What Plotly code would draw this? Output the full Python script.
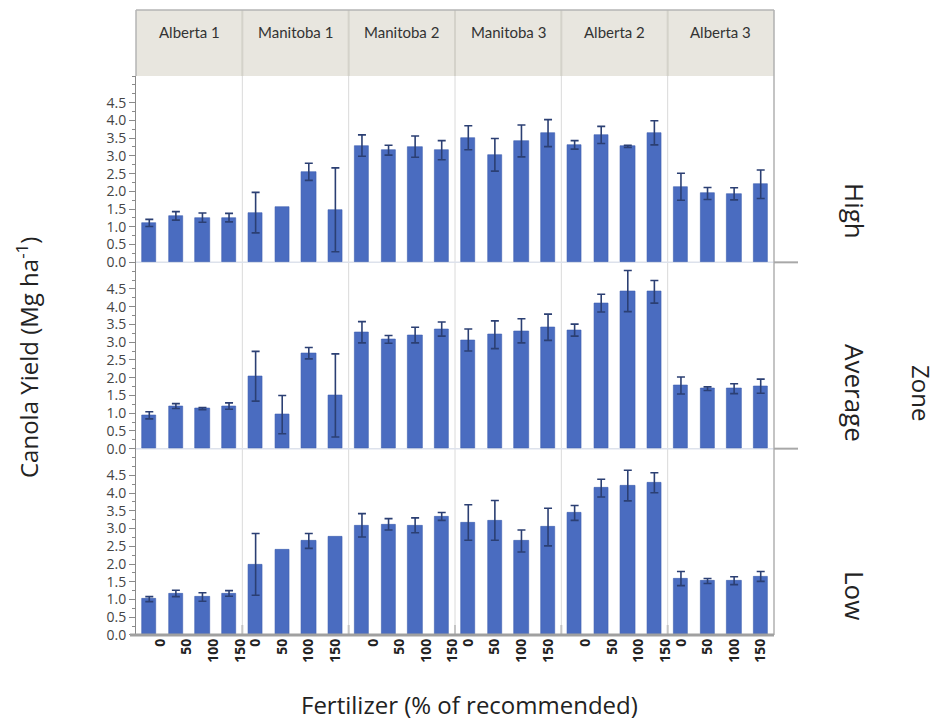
import numpy as np
import plotly.graph_objects as go

# Canola yield (Mg/ha) by site, productivity zone and fertilizer rate
sites = ["Alberta 1", "Manitoba 1", "Manitoba 2", "Manitoba 3", "Alberta 2", "Alberta 3"]
zones = ["High", "Average", "Low"]
fert_rates = [0, 1, 2, 3]
fert_labels = ["0", "50", "100", "150"]

high_yield = [
    [1.11, 1.31, 1.26, 1.26],
    [1.40, 1.55, 2.55, 1.48],
    [3.29, 3.16, 3.26, 3.16],
    [3.51, 3.03, 3.42, 3.64],
    [3.31, 3.59, 3.27, 3.65],
    [2.13, 1.94, 1.93, 2.20],
]
high_err = [
    [0.10, 0.12, 0.13, 0.12],
    [0.57, None, 0.24, 1.18],
    [0.30, 0.14, 0.30, 0.27],
    [0.34, 0.46, 0.45, 0.38],
    [0.12, 0.24, 0.03, 0.34],
    [0.38, 0.17, 0.17, 0.40],
]
avg_yield = [
    [0.94, 1.20, 1.13, 1.20],
    [2.04, 0.96, 2.69, 1.50],
    [3.28, 3.08, 3.20, 3.37],
    [3.06, 3.21, 3.32, 3.42],
    [3.34, 4.10, 4.44, 4.42],
    [1.78, 1.69, 1.69, 1.76],
]
avg_err = [
    [0.10, 0.07, 0.03, 0.09],
    [0.70, 0.54, 0.16, 1.17],
    [0.30, 0.11, 0.22, 0.20],
    [0.31, 0.39, 0.34, 0.37],
    [0.17, 0.25, 0.58, 0.32],
    [0.24, 0.05, 0.14, 0.20],
]
low_yield = [
    [1.01, 1.17, 1.07, 1.17],
    [1.99, 2.40, 2.65, 2.76],
    [3.09, 3.12, 3.09, 3.34],
    [3.17, 3.23, 2.65, 3.04],
    [3.44, 4.14, 4.21, 4.29],
    [1.59, 1.52, 1.53, 1.65],
]
low_err = [
    [0.07, 0.09, 0.12, 0.08],
    [0.87, None, 0.21, None],
    [0.33, 0.16, 0.21, 0.11],
    [0.50, 0.56, 0.31, 0.53],
    [0.21, 0.25, 0.43, 0.28],
    [0.20, 0.07, 0.11, 0.14],
]

yield_by_zone = [high_yield, avg_yield, low_yield]
err_by_zone = [high_err, avg_err, low_err]

y_tick_vals = [0, 0.5, 1.0, 1.5, 2.0, 2.5, 3.0, 3.5, 4.0, 4.5]

# ---- geometry (pixels) ----
W, H = 940, 723
ML, MR, MT, MB = 136, 166, 10, 88
PW, PH = W - ML - MR, H - MT - MB          # paper area
HEADER_H = 66
ROWS_H = PH - HEADER_H
ROW_H = ROWS_H / 3
NCOL = 6
Y_MAX = 5.25

BAR_COLOR = "#4a6cc0"
BAR_EDGE = "#3e5fb0"
ERR_COLOR = "#2b3f73"
label_shift = [11, 0, 11, 0, 11, 0]

fig = go.Figure()
layout = {}

for r in range(3):
    y_top = (ROWS_H - r * ROW_H) / PH
    y_bot = (ROWS_H - (r + 1) * ROW_H) / PH
    for c in range(NCOL):
        k = r * NCOL + c + 1
        xname = "xaxis" if k == 1 else f"xaxis{k}"
        yname = "yaxis" if k == 1 else f"yaxis{k}"
        xref = "x" if k == 1 else f"x{k}"
        yref = "y" if k == 1 else f"y{k}"

        vals = yield_by_zone[r][c]
        errs = err_by_zone[r][c]
        hover = f"{sites[c]} – {zones[r]}<br>%{{x}}: %{{y:.2f}}<extra></extra>"

        # bars that carry a standard-error whisker
        xi = [x for x, e in zip(fert_rates, errs) if e is not None]
        if xi:
            fig.add_trace(go.Bar(
                x=xi,
                y=[v for v, e in zip(vals, errs) if e is not None],
                xaxis=xref, yaxis=yref, width=0.53,
                marker=dict(color=BAR_COLOR, line=dict(color=BAR_EDGE, width=0.6)),
                error_y=dict(type="data", array=[e for e in errs if e is not None],
                             visible=True, color=ERR_COLOR, thickness=1.6, width=4),
                showlegend=False, hovertemplate=hover,
            ))
        # bars with a single observation (no whisker)
        xn = [x for x, e in zip(fert_rates, errs) if e is None]
        if xn:
            fig.add_trace(go.Bar(
                x=xn,
                y=[v for v, e in zip(vals, errs) if e is None],
                xaxis=xref, yaxis=yref, width=0.53,
                marker=dict(color=BAR_COLOR, line=dict(color=BAR_EDGE, width=0.6)),
                showlegend=False, hovertemplate=hover,
            ))

        bottom = r == 2
        layout[xname] = dict(
            domain=[c / NCOL, (c + 1) / NCOL],
            anchor=yref,
            range=[-0.5, 3.5],
            tickmode="array", tickvals=fert_rates, ticktext=fert_labels,
            showticklabels=bottom,
            tickangle=-90,
            ticklabelshift=label_shift[c] if bottom else 0,
            tickfont=dict(family="Open Sans", size=14, color="#222", weight="bold"),
            ticks="", showgrid=False, zeroline=False, showline=False,
            fixedrange=True,
        )
        first = c == 0
        layout[yname] = dict(
            domain=[y_bot, y_top],
            anchor=xref,
            range=[0, Y_MAX],
            tickmode="array", tickvals=y_tick_vals,
            ticktext=[f"{v:.1f}" for v in y_tick_vals],
            showticklabels=first,
            ticks="outside" if first else "",
            ticklen=6, tickwidth=1, tickcolor="#8a8a8a",
            minor=dict(tickmode="array",
                       tickvals=list(np.arange(0, Y_MAX + 0.001, 0.25)),
                       ticks="outside" if first else "",
                       ticklen=3, tickcolor="#8a8a8a", tickwidth=1,
                       showgrid=False),
            tickfont=dict(family="Open Sans", size=14, color="#444"),
            showline=first, linecolor="#8a8a8a", linewidth=1,
            showgrid=False, zeroline=False,
            fixedrange=True,
        )

shapes = []
hdr_bot = ROWS_H / PH
rows_top = ROWS_H / PH

# header strip
shapes.append(dict(type="rect", xref="paper", yref="paper", x0=0, x1=1, y0=hdr_bot, y1=1,
                   fillcolor="#e8e6df", line=dict(width=0), layer="below"))
for c in range(1, NCOL):
    shapes.append(dict(type="line", xref="paper", yref="paper", x0=c / NCOL, x1=c / NCOL,
                       y0=hdr_bot, y1=1, line=dict(color="#d4d2ca", width=2)))
    # column dividers through the panels
    shapes.append(dict(type="line", xref="paper", yref="paper", x0=c / NCOL, x1=c / NCOL,
                       y0=0, y1=rows_top, line=dict(color="#dadada", width=1), layer="below"))
    # short marks at the foot of each divider
    shapes.append(dict(type="line", xref="paper", yref="paper", x0=c / NCOL, x1=c / NCOL,
                       y0=0, y1=10 / PH, line=dict(color="#c4c4c4", width=2)))
shapes.append(dict(type="line", xref="paper", yref="paper", x0=0, x1=1, y0=1, y1=1,
                   line=dict(color="#b4b4b4", width=1.5)))
shapes.append(dict(type="line", xref="paper", yref="paper", x0=0, x1=0, y0=hdr_bot, y1=1,
                   line=dict(color="#b4b4b4", width=1.5)))
# right border
shapes.append(dict(type="line", xref="paper", yref="paper", x0=1, x1=1, y0=0, y1=1,
                   line=dict(color="#b0b0b0", width=1.5)))
# row separators
for r in (1, 2):
    yb = (ROWS_H - r * ROW_H) / PH
    shapes.append(dict(type="line", xref="paper", yref="paper", x0=0, x1=1, y0=yb, y1=yb,
                       line=dict(color="#dde2ec", width=1.5), layer="below"))
    shapes.append(dict(type="line", xref="paper", yref="paper", x0=1, x1=1 + 24 / PW,
                       y0=yb, y1=yb, line=dict(color="#a8a8a8", width=2)))
# bottom axis line
shapes.append(dict(type="line", xref="paper", yref="paper", x0=-6 / PW, x1=1, y0=0, y1=0,
                   line=dict(color="#a0a0a0", width=3)))

annotations = []
for c, name in enumerate(sites):
    annotations.append(dict(text=name, xref="paper", yref="paper",
                            x=(c + 0.5) / NCOL, y=1 - 22 / PH,
                            showarrow=False, xanchor="center", yanchor="middle",
                            font=dict(family="Lato", size=15, color="#333")))

zone_label_y = [211, 393, 595]
for name, py in zip(zones, zone_label_y):
    annotations.append(dict(text=name, xref="paper", yref="paper",
                            x=(855 - ML) / PW, y=(H - MB - py) / PH,
                            textangle=90, showarrow=False,
                            xanchor="center", yanchor="middle",
                            font=dict(family="Open Sans", size=26, color="#222")))
annotations.append(dict(text="Zone", xref="paper", yref="paper",
                        x=(922 - ML) / PW, y=(H - MB - 393) / PH,
                        textangle=90, showarrow=False, xanchor="center", yanchor="middle",
                        font=dict(family="Open Sans", size=24, color="#222")))
annotations.append(dict(text="Canola Yield (Mg ha<sup>-1</sup>)", xref="paper", yref="paper",
                        x=(27 - ML) / PW, y=(H - MB - 358) / PH,
                        textangle=-90, showarrow=False, xanchor="center", yanchor="middle",
                        font=dict(family="Open Sans", size=24, color="#222")))
annotations.append(dict(text="Fertilizer (% of recommended)", xref="paper", yref="paper",
                        x=(469 - ML) / PW, y=(H - MB - 704) / PH,
                        showarrow=False, xanchor="center", yanchor="middle",
                        font=dict(family="Open Sans", size=24, color="#222")))

fig.update_layout(
    width=W, height=H,
    margin=dict(l=ML, r=MR, t=MT, b=MB),
    paper_bgcolor="white", plot_bgcolor="white",
    bargap=0, barmode="overlay",
    shapes=shapes,
    annotations=annotations,
    **layout,
)

fig.write_html("out.html")
